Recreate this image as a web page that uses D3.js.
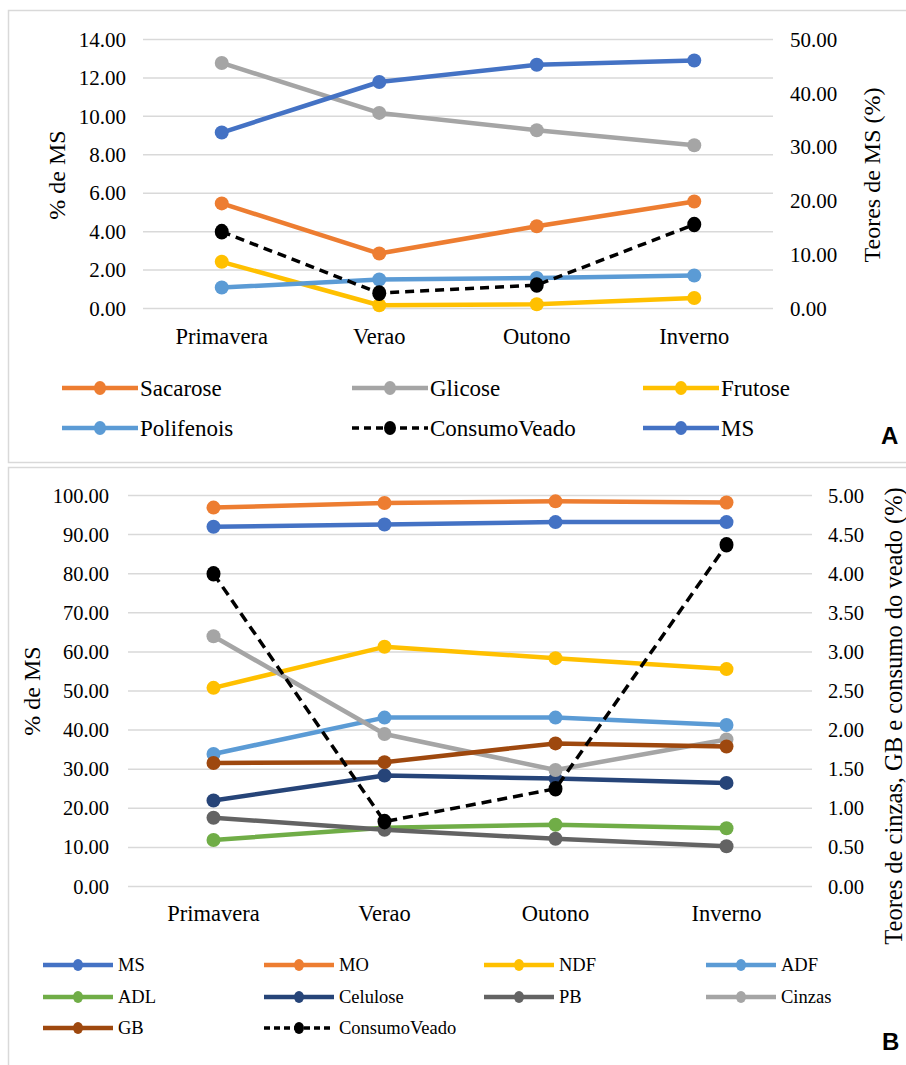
<!DOCTYPE html>
<html>
<head>
<meta charset="utf-8">
<script src="https://cdn.jsdelivr.net/npm/d3@7"></script>
<style>
  html, body { margin: 0; padding: 0; background: #fff; }
  svg { display: block; }
</style>
</head>
<body>
<svg id="chart" width="906" height="1065"></svg>
<script>
// Seasons shared by both panels
const seasons = ["Primavera", "Verao", "Outono", "Inverno"];

// Panel A: sugars, polyphenols and deer consumption (% de MS), dry matter (right axis)
const sacarose   = [5.47, 2.86, 4.28, 5.57];
const glicose    = [12.78, 10.18, 9.28, 8.50];
const frutose    = [2.43, 0.17, 0.22, 0.55];
const polifenois = [1.09, 1.51, 1.59, 1.72];
const consumoA   = [4.00, 0.80, 1.22, 4.37];
const msA        = [32.7, 42.1, 45.3, 46.1];

const ticksA_left  = [0, 2, 4, 6, 8, 10, 12, 14];
const ticksA_right = [0, 10, 20, 30, 40, 50];

// Panel B: chemical composition (% de MS); ash, fat and consumption on right axis
const msB       = [92.0, 92.6, 93.2, 93.2];
const moB       = [96.9, 98.1, 98.5, 98.2];
const ndf       = [50.8, 61.3, 58.4, 55.6];
const adf       = [33.9, 43.2, 43.2, 41.3];
const adl       = [11.9, 15.0, 15.8, 14.9];
const celulose  = [22.0, 28.4, 27.6, 26.5];
const pb        = [17.6, 14.5, 12.2, 10.3];
const cinzas    = [3.20, 1.95, 1.49, 1.88];
const gb        = [1.58, 1.59, 1.83, 1.79];
const consumoB  = [4.00, 0.83, 1.25, 4.37];

const ticksB_left  = [0, 10, 20, 30, 40, 50, 60, 70, 80, 90, 100];
const ticksB_right = [0, 0.5, 1, 1.5, 2, 2.5, 3, 3.5, 4, 4.5, 5];

const C = {
  blue: "#4472C4", orange: "#ED7D31", gray: "#A5A5A5", yellow: "#FFC000",
  lblue: "#5B9BD5", green: "#70AD47", dblue: "#264478", dgray: "#636363",
  brown: "#9E480E", black: "#000000"
};

const SERIF = "'Liberation Serif', 'Times New Roman', serif";
const SANS = "'Liberation Sans', Arial, sans-serif";

const svg = d3.select("#chart");
const fmt = d3.format(".2f");

// panel frames
svg.append("rect").attr("x", 8.5).attr("y", 10.5).attr("width", 910).attr("height", 452)
  .attr("fill", "none").attr("stroke", "#d9d9d9").attr("stroke-width", 1.5);
svg.append("rect").attr("x", 8.5).attr("y", 467.5).attr("width", 910).attr("height", 620)
  .attr("fill", "none").attr("stroke", "#d9d9d9").attr("stroke-width", 1.5);

function styleText(sel, size) {
  sel.style("font-family", SERIF).style("font-size", size + "px").style("fill", "#000");
}

function drawPanel(cfg) {
  const g = svg.append("g");
  const x = d3.scaleBand().domain(seasons).range([cfg.x0, cfg.x1]);
  const yL = d3.scaleLinear().domain([0, cfg.maxL]).range([cfg.yBottom, cfg.yTop]);
  const yR = d3.scaleLinear().domain([0, cfg.maxR]).range([cfg.yBottom, cfg.yTop]);

  // horizontal gridlines
  g.append("g").selectAll("line").data(cfg.ticksL).join("line")
    .attr("x1", cfg.x0).attr("x2", cfg.x1)
    .attr("y1", d => yL(d)).attr("y2", d => yL(d))
    .attr("stroke", "#d9d9d9").attr("stroke-width", 1.5);

  // left axis
  const axL = g.append("g").attr("transform", `translate(${cfg.leftLabelX},0)`)
    .call(d3.axisLeft(yL).tickValues(cfg.ticksL).tickFormat(fmt).tickSize(0).tickPadding(0));
  axL.select(".domain").remove();
  styleText(axL.selectAll("text"), cfg.tickFont);

  // right axis
  const axR = g.append("g").attr("transform", `translate(${cfg.rightLabelX},0)`)
    .call(d3.axisRight(yR).tickValues(cfg.ticksR).tickFormat(fmt).tickSize(0).tickPadding(0));
  axR.select(".domain").remove();
  styleText(axR.selectAll("text"), cfg.tickFont);

  // category axis labels
  const axX = g.append("g").attr("transform", `translate(0,${cfg.catY})`)
    .call(d3.axisBottom(x).tickSize(0).tickPadding(0));
  axX.select(".domain").remove();
  styleText(axX.selectAll("text"), cfg.catFont);

  // axis titles
  styleText(g.append("text").attr("transform", `translate(${cfg.titleLX},${cfg.titleLY}) rotate(-90)`)
    .attr("text-anchor", "middle").attr("dominant-baseline", "central")
    .text(cfg.titleL), cfg.titleFontL);
  styleText(g.append("text").attr("transform", `translate(${cfg.titleRX},${cfg.titleRY}) rotate(-90)`)
    .attr("text-anchor", "middle").attr("dominant-baseline", "central")
    .text(cfg.titleR), cfg.titleFontR);

  // series
  cfg.series.forEach(s => {
    const y = s.axis === "R" ? yR : yL;
    const pts = s.values.map((v, i) => [x(seasons[i]) + x.bandwidth() / 2, y(v)]);
    g.append("path").attr("d", d3.line()(pts)).attr("fill", "none")
      .attr("stroke", s.color).attr("stroke-width", s.dash ? cfg.dashWidth : cfg.lineWidth)
      .attr("stroke-dasharray", s.dash ? cfg.dashPattern : null)
      .attr("stroke-linejoin", "round");
    g.append("g").selectAll("ellipse").data(pts).join("ellipse")
      .attr("cx", d => d[0]).attr("cy", d => d[1])
      .attr("rx", cfg.markerR).attr("ry", s.dash ? cfg.markerR + 0.8 : cfg.markerR)
      .attr("fill", s.color);
  });

  // legend
  cfg.series.forEach((s, i) => {
    const col = i % cfg.legendCols.length, row = Math.floor(i / cfg.legendCols.length);
    const lx = cfg.legendCols[col], ly = cfg.legendRows[row];
    const lg = g.append("g");
    lg.append("line").attr("x1", lx).attr("x2", lx + cfg.legendLen).attr("y1", ly).attr("y2", ly)
      .attr("stroke", s.color).attr("stroke-width", s.dash ? cfg.dashWidth : cfg.lineWidth)
      .attr("stroke-dasharray", s.dash ? cfg.legendDash : null);
    lg.append("ellipse").attr("cx", lx + cfg.legendLen / 2).attr("cy", ly)
      .attr("rx", cfg.legendMarkerRx).attr("ry", cfg.legendMarkerRy).attr("fill", s.color);
    styleText(lg.append("text").attr("x", lx + cfg.legendLen + cfg.legendGap).attr("y", ly)
      .attr("dominant-baseline", "central").text(s.name), cfg.legendFont);
  });

  // panel letter
  g.append("text").attr("x", cfg.letterX).attr("y", cfg.letterY)
    .style("font-family", SANS).style("font-weight", "bold")
    .style("font-size", "24px").style("fill", "#000").text(cfg.letter);
}

// Panel A
drawPanel({
  x0: 143, x1: 773, yTop: 39.5, yBottom: 308.5,
  maxL: 14, maxR: 50, ticksL: ticksA_left, ticksR: ticksA_right,
  leftLabelX: 126, rightLabelX: 790, tickFont: 21,
  catY: 328, catFont: 22.5,
  titleL: "% de MS", titleLX: 57, titleLY: 175, titleFontL: 24,
  titleR: "Teores de MS (%)", titleRX: 872, titleRY: 175, titleFontR: 24,
  lineWidth: 4.5, dashWidth: 3.5, dashPattern: "9,6", markerR: 7,
  series: [
    { name: "Sacarose", values: sacarose, color: C.orange, axis: "L" },
    { name: "Glicose", values: glicose, color: C.gray, axis: "L" },
    { name: "Frutose", values: frutose, color: C.yellow, axis: "L" },
    { name: "Polifenois", values: polifenois, color: C.lblue, axis: "L" },
    { name: "ConsumoVeado", values: consumoA, color: C.black, axis: "L", dash: true },
    { name: "MS", values: msA, color: C.blue, axis: "R" }
  ],
  legendCols: [62, 352, 643], legendRows: [388, 428],
  legendLen: 76, legendGap: 2, legendFont: 23,
  legendMarkerRx: 6, legendMarkerRy: 7, legendDash: "7,5",
  letter: "A", letterX: 881, letterY: 444
});

// Panel B
drawPanel({
  x0: 128, x1: 812, yTop: 495.5, yBottom: 886.5,
  maxL: 100, maxR: 5, ticksL: ticksB_left, ticksR: ticksB_right,
  leftLabelX: 109, rightLabelX: 828, tickFont: 20.5,
  catY: 905, catFont: 22.5,
  titleL: "% de MS", titleLX: 32, titleLY: 691, titleFontL: 24,
  titleR: "Teores de cinzas, GB e consumo do veado (%)", titleRX: 893, titleRY: 716, titleFontR: 24.5,
  lineWidth: 4.5, dashWidth: 3.5, dashPattern: "10,6", markerR: 7,
  series: [
    { name: "MS", values: msB, color: C.blue, axis: "L" },
    { name: "MO", values: moB, color: C.orange, axis: "L" },
    { name: "NDF", values: ndf, color: C.yellow, axis: "L" },
    { name: "ADF", values: adf, color: C.lblue, axis: "L" },
    { name: "ADL", values: adl, color: C.green, axis: "L" },
    { name: "Celulose", values: celulose, color: C.dblue, axis: "L" },
    { name: "PB", values: pb, color: C.dgray, axis: "L" },
    { name: "Cinzas", values: cinzas, color: C.gray, axis: "R" },
    { name: "GB", values: gb, color: C.brown, axis: "R" },
    { name: "ConsumoVeado", values: consumoB, color: C.black, axis: "R", dash: true }
  ],
  legendCols: [43, 264, 484, 706], legendRows: [965, 997, 1028],
  legendLen: 70, legendGap: 5, legendFont: 18.5,
  legendMarkerRx: 5, legendMarkerRy: 6, legendDash: "6,4",
  letter: "B", letterX: 882, letterY: 1050
});
</script>
</body>
</html>
